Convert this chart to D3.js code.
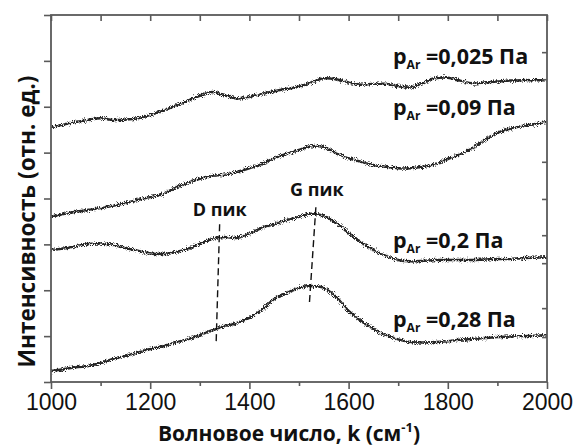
<!DOCTYPE html>
<html>
<head>
<meta charset="utf-8">
<script src="https://cdn.jsdelivr.net/npm/d3@7"></script>
<style>
  html, body { margin: 0; padding: 0; background: #fff; }
  svg { display: block; }
</style>
</head>
<body>
<svg id="chart" width="576" height="448"></svg>
<script>
// Raman spectra of carbon films deposited at different argon pressures
const wavenumber = [
  1000, 1025, 1050, 1075, 1100, 1125, 1150, 1175, 1200, 1225,
  1250, 1275, 1300, 1325, 1350, 1375, 1400, 1425, 1450, 1475,
  1500, 1525, 1550, 1575, 1600, 1625, 1650, 1675, 1700, 1725,
  1750, 1775, 1800, 1825, 1850, 1875, 1900, 1925, 1950, 1975, 2000
];

// Intensity, arbitrary units (spectra offset vertically)
const spectrum0025 = [
  5.56, 5.61, 5.67, 5.71, 5.75, 5.71, 5.72, 5.75, 5.82, 5.91,
  6.02, 6.13, 6.24, 6.32, 6.25, 6.18, 6.22, 6.28, 6.34, 6.39,
  6.44, 6.53, 6.62, 6.60, 6.53, 6.48, 6.50, 6.50, 6.45, 6.42,
  6.52, 6.62, 6.63, 6.57, 6.51, 6.53, 6.55, 6.57, 6.58, 6.58, 6.58
];
const spectrum009 = [
  3.60, 3.66, 3.71, 3.75, 3.79, 3.84, 3.90, 3.97, 4.03, 4.10,
  4.23, 4.34, 4.43, 4.49, 4.52, 4.58, 4.66, 4.75, 4.88, 4.97,
  5.06, 5.14, 5.12, 4.99, 4.88, 4.80, 4.73, 4.69, 4.66, 4.66,
  4.69, 4.75, 4.86, 4.97, 5.10, 5.28, 5.43, 5.52, 5.58, 5.62, 5.67
];
const spectrum02 = [
  2.88, 2.91, 2.96, 3.01, 3.02, 2.99, 2.92, 2.86, 2.80, 2.79,
  2.83, 2.90, 3.01, 3.12, 3.16, 3.14, 3.23, 3.36, 3.44, 3.53,
  3.60, 3.67, 3.62, 3.47, 3.25, 3.05, 2.88, 2.75, 2.66, 2.63,
  2.64, 2.66, 2.66, 2.66, 2.66, 2.67, 2.68, 2.68, 2.70, 2.71, 2.72
];
const spectrum028 = [
  0.24, 0.28, 0.32, 0.35, 0.41, 0.50, 0.57, 0.64, 0.72, 0.78,
  0.86, 0.93, 1.02, 1.13, 1.22, 1.29, 1.40, 1.57, 1.81, 1.94,
  2.05, 2.09, 2.05, 1.85, 1.55, 1.33, 1.16, 1.02, 0.93, 0.87,
  0.86, 0.87, 0.89, 0.92, 0.94, 0.96, 0.98, 0.99, 1.00, 1.01, 1.02
];

const pressureLabels = ["0,025 Па", "0,09 Па", "0,2 Па", "0,28 Па"];

// Peak guide lines: [wavenumber, intensity] end points
const dPeakLine = [[1340, 3.44], [1333, 0.87]];
const gPeakLine = [[1534, 3.81], [1521, 1.72]];

const xTicks = [1000, 1200, 1400, 1600, 1800, 2000];
const xMinorTicks = [1100, 1300, 1500, 1700, 1900];
const yTicks = [0, 1, 2, 3, 4, 5, 6, 7, 8];
const yRightTicks = [0.98, 1.61, 2.59, 3.20, 3.99, 4.80, 6.60, 7.19];

const series = [spectrum0025, spectrum009, spectrum02, spectrum028];

const svg = d3.select("#chart");
const margin = { left: 51, right: 29, top: 15, bottom: 66 };
const W = 576, H = 448;

const x = d3.scaleLinear().domain([1000, 2000]).range([margin.left, W - margin.right]);
const y = d3.scaleLinear().domain([0, 8]).range([H - margin.bottom, margin.top]);

const axisColor = "#5a5a5a";

// grainy texture for the measured spectra
const defs = svg.append("defs");
const grain = defs.append("filter").attr("id", "grain")
  .attr("x", "-5%").attr("y", "-20%").attr("width", "110%").attr("height", "140%");
grain.append("feTurbulence").attr("type", "fractalNoise").attr("baseFrequency", "1.1")
  .attr("numOctaves", 2).attr("seed", 7).attr("result", "noise");
grain.append("feDisplacementMap").attr("in", "SourceGraphic").attr("in2", "noise")
  .attr("scale", 6).attr("xChannelSelector", "R").attr("yChannelSelector", "G");

const line = d3.line()
  .x((d, i) => x(wavenumber[i]))
  .y(d => y(d))
  .curve(d3.curveCatmullRom.alpha(0.5));

svg.append("g").selectAll("path").data(series).join("path")
  .attr("d", d => line(d))
  .attr("fill", "none")
  .attr("stroke", "#262626")
  .attr("stroke-width", 2.5)
  .attr("filter", "url(#grain)");

// axes
const axisBottomG = svg.append("g").attr("transform", `translate(0,${y(0)})`);
axisBottomG.call(d3.axisBottom(x).tickValues(xTicks).tickSize(7).tickPadding(5).tickFormat(d3.format("d")));
axisBottomG.append("g").call(d3.axisBottom(x).tickValues(xMinorTicks).tickSize(4).tickFormat(""));

const axisTopG = svg.append("g").attr("transform", `translate(0,${y(8)})`);
axisTopG.call(d3.axisBottom(x).tickValues(xTicks.concat(xMinorTicks)).tickSize(6).tickFormat(""));

const axisLeftG = svg.append("g").attr("transform", `translate(${x(1000)},0)`);
axisLeftG.call(d3.axisLeft(y).tickValues(yTicks).tickSize(7).tickFormat(""));

const axisRightG = svg.append("g").attr("transform", `translate(${x(2000)},0)`);
axisRightG.call(d3.axisLeft(y).tickValues(yRightTicks).tickSize(5).tickFormat(""));

svg.selectAll(".domain").remove();
svg.selectAll(".tick line").attr("stroke", axisColor).attr("stroke-width", 1.6);
axisBottomG.selectAll(".tick text")
  .attr("font-family", "Liberation Sans, Arial, sans-serif")
  .attr("font-size", 23).attr("fill", "#111");

// frame
svg.append("rect")
  .attr("x", x(1000)).attr("y", y(8))
  .attr("width", x(2000) - x(1000)).attr("height", y(0) - y(8))
  .attr("fill", "none").attr("stroke", axisColor).attr("stroke-width", 1.8);

// peak guide lines
[dPeakLine, gPeakLine].forEach(seg => {
  svg.append("line")
    .attr("x1", x(seg[0][0])).attr("y1", y(seg[0][1]))
    .attr("x2", x(seg[1][0])).attr("y2", y(seg[1][1]))
    .attr("stroke", "#111").attr("stroke-width", 1.4)
    .attr("stroke-dasharray", "7,4");
});

const labelFont = "Open Sans, Lato, sans-serif";

// peak names
svg.append("text").attr("x", x(1340)).attr("y", 216)
  .attr("text-anchor", "middle").attr("font-family", labelFont)
  .attr("font-weight", 700).attr("font-size", 18).attr("fill", "#111")
  .text("D пик");
svg.append("text").attr("x", x(1536)).attr("y", 196)
  .attr("text-anchor", "middle").attr("font-family", labelFont)
  .attr("font-weight", 700).attr("font-size", 18).attr("fill", "#111")
  .text("G пик");

// pressure labels
const labelY = [64, 115, 248, 327];
pressureLabels.forEach((lab, i) => {
  const t = svg.append("text").attr("x", 393).attr("y", labelY[i])
    .attr("font-family", labelFont).attr("font-weight", 700)
    .attr("font-size", 21.5).attr("fill", "#111");
  t.append("tspan").text("p");
  t.append("tspan").attr("font-size", 12).attr("dy", 5).text("Ar");
  t.append("tspan").attr("dy", -5).text(" =" + lab);
});

// axis titles
const xt = svg.append("text").attr("x", 289).attr("y", 441)
  .attr("text-anchor", "middle").attr("font-family", labelFont)
  .attr("font-weight", 700).attr("font-size", 21).attr("fill", "#111");
xt.append("tspan").text("Волновое число, k (см");
xt.append("tspan").attr("font-size", 13).attr("dy", -9).text("-1");
xt.append("tspan").attr("dy", 9).text(")");

svg.append("text")
  .attr("transform", `translate(35,${(y(0) + y(8)) / 2 + 23}) rotate(-90)`)
  .attr("text-anchor", "middle").attr("font-family", labelFont)
  .attr("font-weight", 700).attr("font-size", 22.5).attr("fill", "#111")
  .text("Интенсивность (отн. ед.)");
</script>
</body>
</html>
